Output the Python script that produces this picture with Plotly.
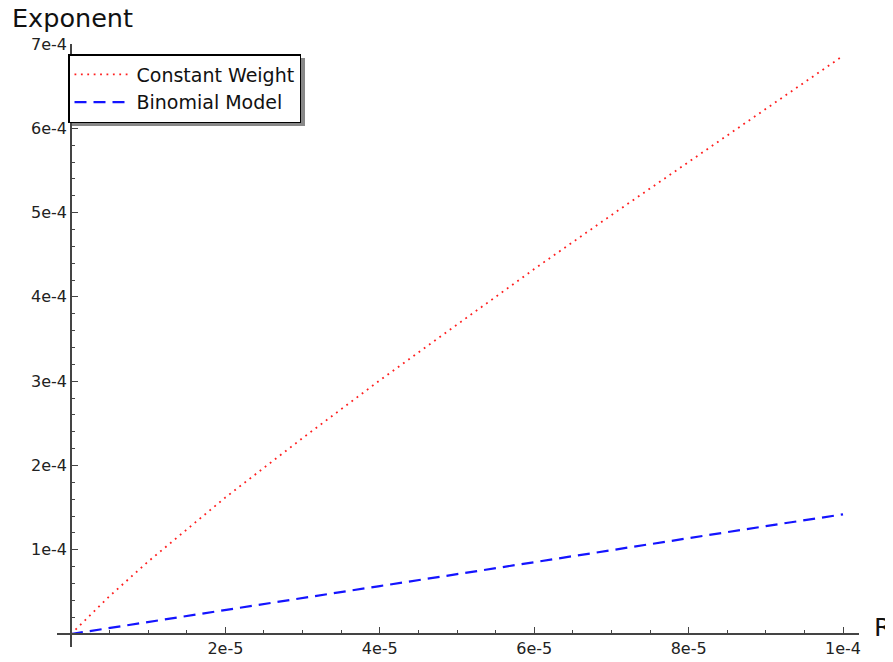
import plotly.graph_objects as go

# values
r_values = [0, 5e-6, 1e-5, 2e-5, 3e-5, 4e-5, 5e-5, 6e-5, 7e-5, 8e-5, 9e-5, 1e-4]
constant_weight = [0, 4.5e-5, 8.6e-5, 1.62e-4, 2.325e-4, 3.01e-4, 3.67e-4,
                   4.33e-4, 4.97e-4, 5.60e-4, 6.23e-4, 6.86e-4]
binomial_model = [0, 7.2e-6, 1.43e-5, 2.85e-5, 4.27e-5, 5.69e-5, 7.1e-5,
                  8.5e-5, 9.95e-5, 1.137e-4, 1.28e-4, 1.42e-4]

x_ticks = [2e-5, 4e-5, 6e-5, 8e-5, 1e-4]
x_labels = ["2e-5", "4e-5", "6e-5", "8e-5", "1e-4"]
y_ticks = [1e-4, 2e-4, 3e-4, 4e-4, 5e-4, 6e-4, 7e-4]
y_labels = ["1e-4", "2e-4", "3e-4", "4e-4", "5e-4", "6e-4", "7e-4"]

FONT = "DejaVu Sans, sans-serif"
x_range = [-1.81e-6, 1.0207e-4]
y_range = [-1.54e-5, 7e-4]

# page body has an 8px margin, so the figure is a bit smaller than the window
W, H = 885, 654
L, R, T, B = 49, 34, 36, 15
PW, PH = W - L - R, H - T - B


def px_x(x):
    # window pixel -> paper x
    return (x - 8 - L) / PW


def px_y(y):
    # window pixel -> paper y
    return 1 - (y - 8 - T) / PH


fig = go.Figure()

fig.add_trace(go.Scatter(
    x=r_values, y=constant_weight,
    name="Constant Weight",
    mode="lines",
    line=dict(color="rgb(255,30,30)", width=1.8, dash="1.8px,4.6px"),
))
fig.add_trace(go.Scatter(
    x=r_values, y=binomial_model,
    name="Binomial Model",
    mode="lines",
    line=dict(color="rgb(20,20,255)", width=2.2, dash="12px,7px"),
))

axis_common = dict(
    showgrid=False, zeroline=False,
    showline=True, linecolor="#444", linewidth=1.5,
    ticks="inside", ticklen=6, tickwidth=1, tickcolor="#444",
    tickfont=dict(family=FONT, size=16, color="#222"),
    anchor="free",
)

fig.update_layout(
    width=W, height=H,
    margin=dict(l=L, r=R, t=T, b=B, autoexpand=False),
    paper_bgcolor="white", plot_bgcolor="white",
    font=dict(family=FONT, color="#111"),
    xaxis=dict(
        range=x_range, tickmode="array", tickvals=x_ticks, ticktext=x_labels,
        position=(0 - y_range[0]) / (y_range[1] - y_range[0]),
        minor=dict(tickmode="linear", tick0=0, dtick=5e-6, ticks="inside",
                   ticklen=3, tickcolor="#444"),
        **axis_common,
    ),
    yaxis=dict(
        range=y_range, tickmode="array", tickvals=y_ticks, ticktext=y_labels,
        position=(0 - x_range[0]) / (x_range[1] - x_range[0]),
        minor=dict(tickmode="linear", tick0=0, dtick=2e-5, ticks="inside",
                   ticklen=3, tickcolor="#444"),
        **axis_common,
    ),
    showlegend=True,
    legend=dict(
        x=px_x(68), y=px_y(54), xanchor="left", yanchor="top",
        bgcolor="white", bordercolor="black", borderwidth=1.5,
        itemwidth=57,
        font=dict(family=FONT, size=19, color="#111"),
    ),
    # legend drop shadow
    shapes=[dict(
        type="rect", xref="paper", yref="paper",
        x0=px_x(72), x1=px_x(305),
        y0=px_y(126), y1=px_y(58),
        fillcolor="#888", line=dict(width=0), layer="above",
    )],
    annotations=[
        dict(text="Exponent", xref="paper", yref="paper",
             x=px_x(10), y=px_y(18),
             xanchor="left", yanchor="middle", showarrow=False,
             font=dict(family=FONT, size=25.5, color="#111")),
        dict(text="R", xref="paper", yref="paper",
             x=px_x(872), y=px_y(627),
             xanchor="left", yanchor="middle", showarrow=False,
             font=dict(family=FONT, size=25.5, color="#111")),
    ],
)

fig.write_html("out.html")
